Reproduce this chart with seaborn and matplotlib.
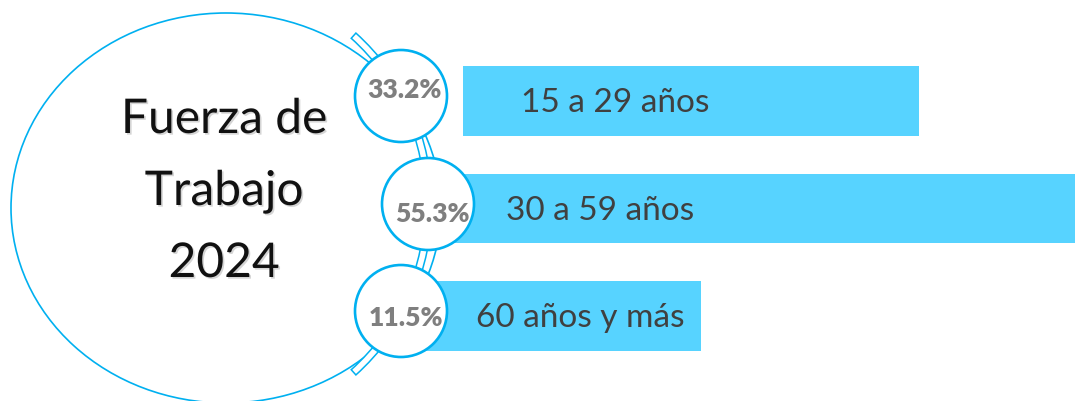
import numpy as np
import pandas as pd
import seaborn as sns
import matplotlib.pyplot as plt
from matplotlib.patches import Ellipse, Circle, Wedge
import matplotlib.patheffects as pe

# datos
categorias = ['15 a 29 años', '30 a 59 años', '60 años y más']
porcentajes = [33.2, 55.3, 11.5]
titulo = ['Fuerza de', 'Trabajo', '2024']

# layout (pixeles)
barra_y = [101, 208.5, 316]
barra_ini = [463, 450, 425]
barra_fin = [919, 1075, 701]
circ_x = [401, 428, 401]
circ_y = [96, 204, 311]
pct_x = [404, 432, 406]
pct_base = [98, 222, 326]
lab_x = [521, 506, 476]
lab_base = [112, 220, 327]

azul = '#00B0F0'
celeste = '#57D3FF'

sns.set_theme(style='white')
plt.rcParams['font.family'] = ['Lato', 'DejaVu Sans']

fig = plt.figure(figsize=(10.75, 4.01), dpi=100)
ax = fig.add_axes([0, 0, 1, 1])

df = pd.DataFrame({
    'categoria': categorias,
    'y': barra_y,
    'largo': np.array(barra_fin) - np.array(barra_ini),
})
sns.barplot(data=df, x='largo', y='y', orient='h', native_scale=True,
            width=0.65, color=celeste, saturation=1, errorbar=None,
            left=barra_ini, linewidth=0, ax=ax, zorder=2)

# circulo grande
ax.add_patch(Ellipse((226, 208), 430, 390, fill=False, edgecolor=azul,
                     lw=1.2, zorder=1))
# banda doble
ax.add_patch(Wedge((202, 204), 230, -48, 48, width=7, facecolor='white',
                   edgecolor=azul, lw=1.1, zorder=1.5))

for i in range(3):
    ax.add_patch(Circle((circ_x[i], circ_y[i]), 46, facecolor='white',
                        edgecolor=azul, lw=1.9, zorder=3))
    ax.text(pct_x[i], pct_base[i], f'{porcentajes[i]:.1f}%', ha='center',
            va='baseline', fontsize=19, fontweight='heavy', color='#7F7F7F',
            zorder=4)
    ax.text(lab_x[i], lab_base[i], categorias[i], ha='left', va='baseline',
            fontsize=24, color='#404040', zorder=4)

sombra = [pe.withSimplePatchShadow(offset=(1.2, -1.2), shadow_rgbFace='#888888',
                                   alpha=0.35)]
for linea, base in zip(titulo, [133, 205, 277]):
    ax.text(224, base, linea, ha='center', va='baseline', fontsize=34.5,
            color='#111111', path_effects=sombra, zorder=4)

ax.set_xlim(0, 1075)
ax.set_ylim(401, 0)
ax.axis('off')

fig.savefig('out.png', dpi=100, facecolor='white')
